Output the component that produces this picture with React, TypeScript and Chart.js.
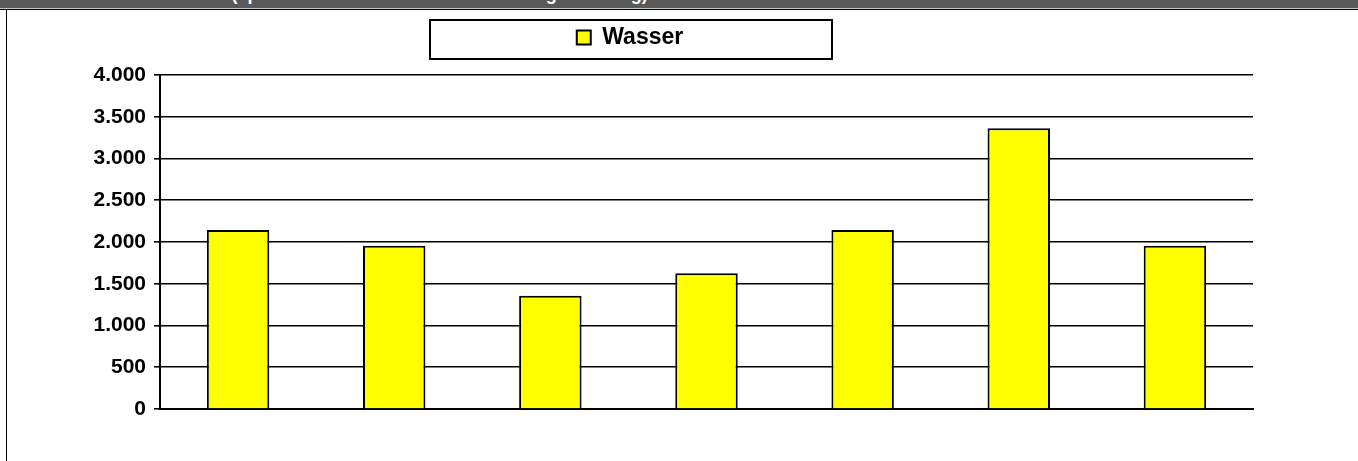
import React, { useEffect, useRef } from 'react';
import { Chart, registerables } from 'chart.js';

Chart.register(...registerables);

// ---- data ----
const categories = ['2003', '2004', '2005', '2006', '2007', '2008', '2009'];
const wasserValues = [2144, 1956, 1357, 1625, 2144, 3361, 1956];
const seriesLabel = 'Wasser';
const yMin = 0;
const yMax = 4000;
const yStep = 500;
const titleText = 'Wasserverbrauch (spezifischer Wasserverbrauch in Regelnutzung)';

const FONT = 'Arial, "Liberation Sans", sans-serif';

const formatDe = (v: number) => String(v).replace(/\B(?=(\d{3})+(?!\d))/g, '.');

const legendFrame = {
  id: 'legendFrame',
  afterDraw(chart: any) {
    const lg = chart.legend;
    if (!lg) return;
    const ctx = chart.ctx;
    const pad = lg.options.labels.padding;
    const fontSize = 23;
    const cx = (lg.left + lg.right) / 2;
    const cy = lg.top + pad + fontSize / 2 + 0.5;
    const w = 402;
    const h = 39;
    ctx.save();
    ctx.strokeStyle = '#000';
    ctx.lineWidth = 2;
    ctx.strokeRect(Math.round(cx - w / 2) + 1, Math.round(cy - h / 2) + 1, w, h);
    ctx.restore();
  },
};

export default function App() {
  const canvasRef = useRef<HTMLCanvasElement | null>(null);

  useEffect(() => {
    const canvas = canvasRef.current;
    if (!canvas) return;
    const chart = new Chart(canvas, {
      type: 'bar',
      data: {
        labels: categories,
        datasets: [
          {
            label: seriesLabel,
            data: wasserValues,
            backgroundColor: '#FFFF00',
            borderColor: '#000000',
            borderWidth: 2,
            barPercentage: 0.4,
            categoryPercentage: 1.0,
          },
        ],
      },
      options: {
        responsive: false,
        animation: false,
        layout: { padding: { top: 0, right: 2, bottom: 52, left: 0 } },
        plugins: {
          tooltip: { enabled: false },
          title: { display: false },
          subtitle: {
            display: true,
            text: '',
            position: 'top',
            weight: 500,
            padding: { top: 15, bottom: 0 },
            font: { size: 1, lineHeight: 1 },
          } as any,
          legend: {
            display: true,
            position: 'top',
            labels: {
              boxWidth: 14,
              boxHeight: 14,
              padding: 16,
              color: '#000',
              font: { family: FONT, size: 23, weight: 'bold' },
            },
          },
        },
        scales: {
          x: {
            grid: { display: false },
            ticks: { display: false },
            border: { display: true, color: '#000', width: 2 },
            afterFit: (s: any) => {
              s.height = 0;
            },
          },
          y: {
            min: yMin,
            max: yMax,
            ticks: {
              stepSize: yStep,
              color: '#000',
              padding: 8,
              font: { family: FONT, size: 21, weight: 'bold' },
              callback: (v: any) => formatDe(Number(v)),
            },
            grid: {
              color: '#000',
              lineWidth: 1.6,
              drawTicks: true,
              tickLength: 6,
              tickColor: '#000',
            },
            border: { display: true, color: '#000', width: 2 },
            afterFit: (s: any) => {
              s.width = 153;
            },
          },
        },
      },
      plugins: [legendFrame],
    });
    return () => chart.destroy();
  }, []);

  return (
    <div
      style={{
        position: 'fixed',
        left: 0,
        top: 0,
        width: 1358,
        height: 461,
        background: '#fff',
        overflow: 'hidden',
      }}
    >
      <div
        style={{
          position: 'absolute',
          left: 0,
          top: 0,
          width: 1358,
          height: 8,
          background: '#595959',
          overflow: 'hidden',
        }}
      >
        <div
          style={{
            position: 'absolute',
            left: 76,
            top: -15,
            whiteSpace: 'nowrap',
            color: '#fff',
            fontFamily: FONT,
            fontWeight: 'bold',
            fontSize: 18,
            lineHeight: '18px',
          }}
        >
          {titleText}
        </div>
      </div>
      <div style={{ position: 'absolute', left: 0, top: 8, width: 1358, height: 1, background: '#c8c8c8' }} />
      <div style={{ position: 'absolute', left: 0, top: 9, width: 1358, height: 1, background: '#000' }} />
      <div style={{ position: 'absolute', left: 6, top: 9, width: 1, height: 452, background: '#000' }} />
      <canvas
        ref={canvasRef}
        width={1248}
        height={451}
        style={{ position: 'absolute', left: 7, top: 10, width: 1248, height: 451 }}
      />
    </div>
  );
}
